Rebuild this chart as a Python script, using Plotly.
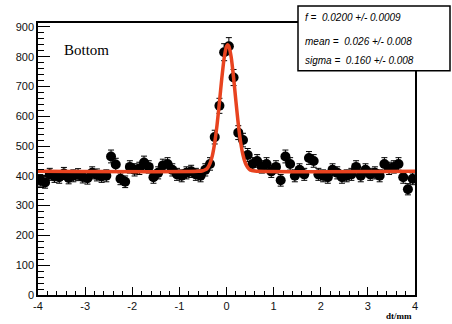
import plotly.graph_objects as go
import numpy as np

# bin centres (width 0.1 from -4 to 4)
bin_centers = [round(-3.95 + 0.1 * i, 2) for i in range(80)]
counts = [
    385, 378, 405, 398, 395, 408, 393, 400, 404, 396,
    392, 410, 403, 398, 400, 465, 438, 390, 380, 430,
    420, 425, 445, 430, 395, 410, 435, 440, 420, 405,
    400, 410, 415, 405, 400, 420, 440, 530, 635, 815,
    835, 730, 545, 520, 470, 440, 450, 430, 440, 415,
    430, 385, 465, 440, 400, 420, 405, 460, 450, 405,
    400, 395, 420, 410, 395, 400, 405, 430, 400, 420,
    405, 410, 400, 440, 425, 430, 440, 395, 355, 390,
]
errors = [float(np.sqrt(c)) for c in counts]

# fitted curve
fit_x = [-4.0, -0.6, -0.5, -0.45, -0.4, -0.35, -0.3, -0.25, -0.2, -0.15, -0.1, -0.05,
         0.0, 0.026, 0.05, 0.1, 0.15, 0.2, 0.25, 0.3, 0.35, 0.4, 0.45, 0.5, 0.6, 4.0]
fit_y = [415, 415, 417, 420, 427, 442, 468, 511, 572, 647, 727, 795,
         834, 840, 835, 798, 730, 650, 574, 513, 470, 443, 428, 420, 416, 415]

x_tickvals = [-4, -3, -2, -1, 0, 1, 2, 3, 4]
x_ticktext = ["-4", "-3", "-2", "-1", "0", "1", "2", "3", "4"]

stats_lines = ["<i>f =  0.0200 +/- 0.0009</i>",
               "<i>mean =  0.026 +/- 0.008</i>",
               "<i>sigma =  0.160 +/- 0.008</i>"]

W, H = 452, 324
L, R, T, B = 38, 415, 23, 297
pw, ph = R - L, B - T

def px(x):
    return (x - L) / pw

def py(y):
    return (B - y) / ph

fig = go.Figure()
fig.add_trace(go.Scatter(
    x=bin_centers, y=counts, mode="markers",
    marker=dict(color="black", size=10, symbol="circle"),
    error_y=dict(type="data", array=errors, color="black", thickness=1, width=3),
    showlegend=False,
))
fig.add_trace(go.Scatter(
    x=fit_x, y=fit_y, mode="lines", line=dict(color="#e8431f", width=3.5, shape="spline", smoothing=0.6),
    showlegend=False,
))

tickfont = dict(family="Liberation Sans", size=11, color="#111")
fig.update_layout(
    width=W, height=H,
    margin=dict(l=L, r=W - R, t=T, b=H - B),
    paper_bgcolor="white", plot_bgcolor="white",
    xaxis=dict(range=[-4, 4], showgrid=False, zeroline=False, showline=True, linecolor="black",
               linewidth=1.5, mirror=True, ticks="inside", ticklen=8, tickcolor="black",
               tickvals=x_tickvals, ticktext=x_ticktext, tickfont=tickfont,
               minor=dict(ticks="inside", ticklen=4, dtick=0.2, tick0=-4, tickcolor="black")),
    yaxis=dict(range=[0, 913], showgrid=False, zeroline=False, showline=True, linecolor="black",
               linewidth=1.5, mirror=True, ticks="inside", ticklen=12, tickcolor="black",
               dtick=100, tick0=0, tickfont=tickfont,
               minor=dict(ticks="inside", ticklen=6, dtick=20, tickcolor="black")),
)

# stats box
fig.add_shape(type="rect", xref="paper", yref="paper",
              x0=px(298), x1=px(450), y0=py(71), y1=py(6),
              line=dict(color="black", width=1.5), fillcolor="white", layer="above")
for txt, yy in zip(stats_lines, [17, 42, 61]):
    fig.add_annotation(xref="paper", yref="paper", x=px(303), y=py(yy), text=txt,
                       showarrow=False, xanchor="left", yanchor="middle",
                       font=dict(family="Liberation Sans", size=10, color="black"))

fig.add_annotation(xref="paper", yref="paper", x=px(62), y=py(50), text="Bottom",
                   showarrow=False, xanchor="left", yanchor="middle",
                   font=dict(family="Liberation Serif", size=15, color="black"))
fig.add_annotation(xref="paper", yref="paper", x=px(414), y=py(318), text="<b>dt/mm</b>",
                   showarrow=False, xanchor="right", yanchor="middle",
                   font=dict(family="Liberation Serif", size=9, color="black"))

fig.write_html("out.html")
